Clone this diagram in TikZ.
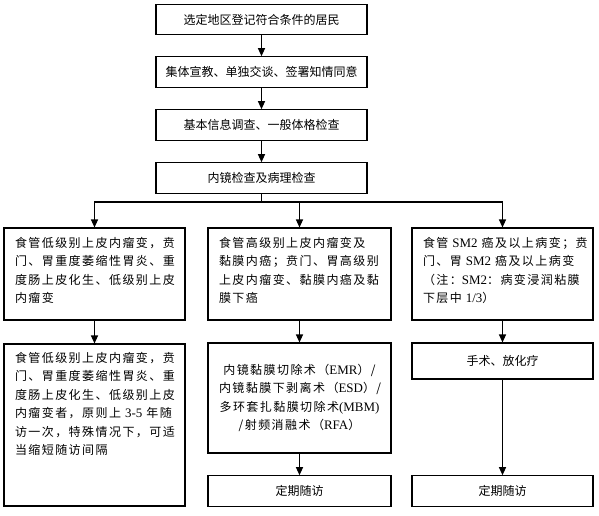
\documentclass[tikz,border=0pt]{standalone}
\usepackage{fontspec}
\setmainfont{Noto Sans CJK SC}
\newfontfamily\colfont[LetterSpace=12]{Noto Sans CJK SC}
\newfontfamily\latfont[Scale=1.08]{Liberation Serif}
\newcommand\lat[1]{{\latfont #1}}
\usetikzlibrary{arrows.meta}

\begin{document}
\begin{tikzpicture}[x=1pt,y=-1pt,
        box/.style={draw,line width=1.1pt,rectangle,inner sep=0pt,font=\fontsize{12}{18.5}\selectfont},
        topbox/.style={box,minimum width=211pt,minimum height=30.5pt},
        colbox/.style={box,minimum width=181pt,text width=159pt,inner xsep=11pt,align=left,font=\colfont\fontsize{12}{18.5}\selectfont},
        arr/.style={line width=1.1pt,-{Triangle[length=8pt,width=7pt]}}]

    \useasboundingbox (0,0) rectangle (599,515);

    \node[topbox] (reg) at (261.5,19.5) {选定地区登记符合条件的居民};
    \node[topbox] (edu) at (261.5,72) {集体宣教、单独交谈、签署知情同意};
    \node[topbox] (info) at (261.5,125) {基本信息调查、一般体格检查};
    \node[topbox] (endo) at (261.5,178) {内镜检查及病理检查};

    \node[colbox,minimum height=92pt] (low) at (94.5,274) {食管低级别上皮内瘤变，贲\\门、胃重度萎缩性胃炎、重\\度肠上皮化生、低级别上皮\\内瘤变\\[-10pt]\mbox{}};
    \node[colbox,minimum height=162pt] (lowfu) at (94.5,425) {食管低级别上皮内瘤变，贲\\门、胃重度萎缩性胃炎、重\\度肠上皮化生、低级别上皮\\内瘤变者，原则上~\lat{3-5}~年随\\访一次，特殊情况下，可适\\当缩短随访间隔\\[25pt]\mbox{}};

    \node[colbox,minimum width=183pt,text width=161pt,minimum height=92pt] (high) at (299.5,274) {食管高级别上皮内瘤变及\\黏膜内癌；贲门、胃高级别\\上皮内瘤变、黏膜内癌及黏\\膜下癌\\[-10pt]\mbox{}};
    \node[colbox,minimum width=183pt,text width=161pt,minimum height=110pt,align=center] (treat) at (299.5,398) {内镜黏膜切除术（\lat{EMR}）/\\内镜黏膜下剥离术（\lat{ESD}）/\\多环套扎黏膜切除术\lat{(MBM)}\\/射频消融术（\lat{RFA}）};
    \node[topbox,minimum width=183pt] (highfu) at (299.5,491) {定期随访};

    \node[colbox,minimum height=92pt] (sm) at (502.5,274) {食管~\lat{SM2}~癌及以上病变；贲\\门、胃~\lat{SM2}~癌及以上病变\\（注：\lat{SM2}：病变浸润粘膜\\下层中~\lat{1/3}）\\[-10pt]\mbox{}};
    \node[topbox,minimum width=181pt,minimum height=36pt] (surg) at (502.5,361) {手术、放化疗};
    \node[topbox,minimum width=181pt] (smfu) at (502.5,491) {定期随访};

    \coordinate (split) at (261.5,202);

    \draw[arr] (reg) -- (edu);
    \draw[arr] (edu) -- (info);
    \draw[arr] (info) -- (endo);
    \draw[line width=1.1pt] (endo) -- (split);
    \draw[arr] (split) -| (low.north);
    \draw[arr] (split) -| (high.north);
    \draw[arr] (split) -| (sm.north);
    \draw[arr] (low) -- (lowfu);
    \draw[arr] (high) -- (treat);
    \draw[arr] (treat) -- (highfu);
    \draw[arr] (sm) -- (surg);
    \draw[arr] (surg) -- (smfu);
    \end{tikzpicture}
\end{document}
